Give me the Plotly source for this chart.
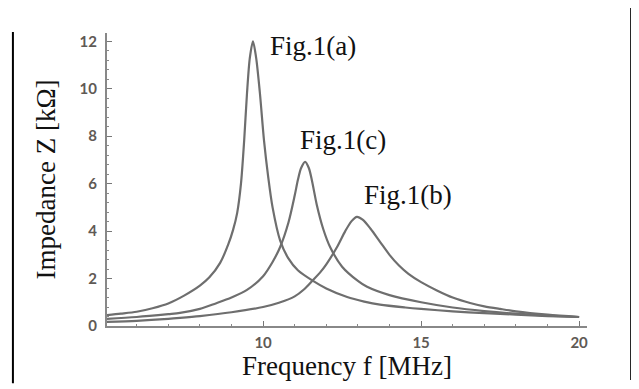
import plotly.graph_objects as go

# Curve (a)
freq_a = [5.06, 5.5, 6.0, 6.5, 7.0, 7.5, 8.0, 8.3, 8.64, 8.9, 9.05, 9.18, 9.3, 9.4,
          9.49, 9.58, 9.68, 9.78, 9.9, 10.03, 10.16, 10.3, 10.54, 10.8, 11.1, 11.58,
          12.0, 12.66, 13.2, 13.7, 14.5, 15.0, 16.0, 17.0, 18.0, 19.0, 20.0]
imp_a = [0.46, 0.52, 0.60, 0.75, 0.95, 1.28, 1.70, 2.05, 2.66, 3.45, 4.05, 4.77, 6.0, 7.8,
         9.8, 11.3, 12.0, 11.3, 9.8, 7.8, 6.3, 5.0, 3.6, 2.85, 2.35, 1.9,
         1.58, 1.22, 1.03, 0.9, 0.78, 0.72, 0.62, 0.54, 0.48, 0.42, 0.38]

# Curve (c)
freq_c = [5.06, 6.0, 7.0, 7.37, 8.0, 8.5, 9.0, 9.49, 10.0, 10.3, 10.54, 10.8, 11.0,
          11.1, 11.2, 11.33, 11.45, 11.55, 11.7, 11.9, 12.12, 12.5, 13.0, 13.29,
          14.0, 15.0, 16.0, 17.0, 18.0, 19.0, 20.0]
imp_c = [0.30, 0.38, 0.50, 0.55, 0.72, 0.95, 1.2, 1.52, 2.1, 2.7, 3.33, 4.35, 5.5,
         6.15, 6.65, 6.92, 6.65, 6.1, 5.1, 4.1, 3.33, 2.5, 1.9, 1.65,
         1.3, 1.0, 0.78, 0.63, 0.52, 0.44, 0.38]

# Curve (b)
freq_b = [5.06, 6.0, 7.0, 7.37, 8.0, 9.0, 10.0, 10.5, 11.0, 11.3, 11.58, 11.8, 12.0,
          12.34, 12.6, 12.8, 12.97, 13.15, 13.4, 13.7, 14.0, 14.3, 14.6, 15.0, 15.5,
          16.0, 16.55, 17.0, 17.5, 18.0, 19.0, 20.0]
imp_b = [0.17, 0.22, 0.30, 0.34, 0.42, 0.58, 0.80, 0.98, 1.25, 1.55, 1.94, 2.25, 2.6,
         3.33, 4.0, 4.42, 4.6, 4.48, 4.1, 3.55, 3.0, 2.55, 2.2, 1.85, 1.5,
         1.2, 0.97, 0.83, 0.72, 0.62, 0.48, 0.38]

labels = ["Fig.1(a)", "Fig.1(c)", "Fig.1(b)"]
label_x = [10.15, 11.1, 13.13]
label_y = [11.8, 7.85, 5.53]

y_ticks = [0, 2, 4, 6, 8, 10, 12]
x_ticks = [10, 15, 20]

fig = go.Figure()
line_style = dict(color="#6e6e6e", width=2.2, shape="spline", smoothing=0.8)
for fx, zy in [(freq_a, imp_a), (freq_c, imp_c), (freq_b, imp_b)]:
    fig.add_trace(go.Scatter(x=fx, y=zy, mode="lines", line=line_style,
                             showlegend=False, hoverinfo="skip"))

for t, xx, yy in zip(labels, label_x, label_y):
    fig.add_annotation(x=xx, y=yy, text=t, showarrow=False, xanchor="left",
                       yanchor="middle",
                       font=dict(family="Liberation Serif", size=27, color="#111111"))

tickfont = dict(family="Lato", size=15, color="#5f5a55", weight="bold")

fig.update_layout(
    width=639, height=389,
    margin=dict(l=99, r=60, t=25, b=71),
    paper_bgcolor="white", plot_bgcolor="white",
    xaxis=dict(range=[5.06, 20.25], tickvals=x_ticks, ticks="inside", ticklen=5,
               tickcolor="#777777", showline=True, linecolor="#888888", linewidth=2,
               showgrid=False, zeroline=False, tickfont=tickfont, ticklabelstandoff=2,
               minor=dict(dtick=1, ticks="inside", ticklen=2, tickcolor="#888888"),
               title=dict(text="Frequency f [MHz]", standoff=4,
                          font=dict(family="Liberation Serif", size=27, color="#111111"))),
    yaxis=dict(range=[0, 12.35], tickvals=y_ticks, ticks="inside", ticklen=5,
               tickcolor="#777777", showline=True, linecolor="#888888", linewidth=2,
               showgrid=False, zeroline=False, tickfont=tickfont, ticklabelstandoff=5,
               minor=dict(dtick=0.4, ticks="inside", ticklen=2, tickcolor="#888888"),
               title=dict(text="Impedance Z [kΩ]", standoff=16,
                          font=dict(family="Liberation Serif", size=27, color="#111111"))),
)

# outer figure frame edges
fig.add_shape(type="line", xref="paper", yref="paper", x0=-0.196, x1=-0.196,
              y0=-0.195, y1=1.003, line=dict(color="black", width=2))
fig.add_shape(type="line", xref="paper", yref="paper", x0=1.092, x1=1.092,
              y0=-0.184, y1=1.105, line=dict(color="black", width=2))

fig.write_html("out.html")
